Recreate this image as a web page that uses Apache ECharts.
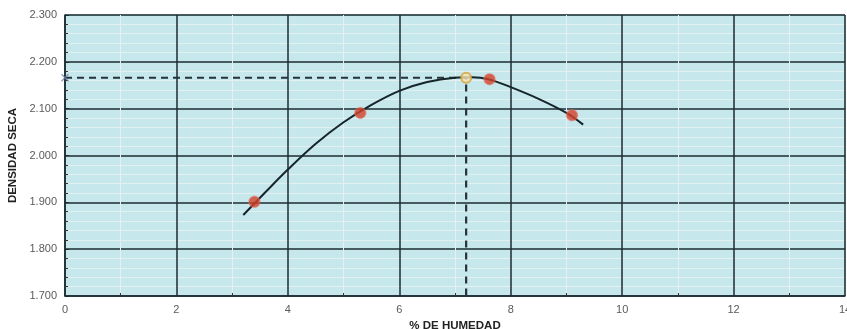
<!DOCTYPE html>
<html>
<head>
<meta charset="utf-8">
<script src="https://cdn.jsdelivr.net/npm/echarts@6/dist/echarts.min.js"></script>
<style>
html,body{margin:0;padding:0;background:#fff;}
#c{width:847px;height:329px;}
</style>
</head>
<body>
<div id="c"></div>
<script>
// Data
const puntosHumedad = [3.4, 5.3, 7.62, 9.1];
const puntosDensidad = [1.901, 2.091, 2.163, 2.086];
const optimoHumedad = 7.2;
const optimoDensidad = 2.166;
const curvaHumedad = [3.2, 3.6, 4.0, 4.5, 5.0, 5.5, 6.0, 6.5, 7.0, 7.3, 7.6, 8.0, 8.5, 9.0, 9.3];
const curvaDensidad = [1.873, 1.922, 1.970, 2.025, 2.071, 2.108, 2.138, 2.157, 2.166, 2.167, 2.163, 2.146, 2.121, 2.091, 2.066];
const ejeX = {min: 0, max: 14, interval: 2, name: '% DE HUMEDAD'};
const ejeY = {min: 1.7, max: 2.3, interval: 0.1, name: 'DENSIDAD SECA'};

const chart = echarts.init(document.getElementById('c'), null, {renderer: 'canvas'});
const dark = '#1d2b30';
const labelFont = {color: '#5a5a5a', fontSize: 11, fontFamily: 'Liberation Sans, Arial, sans-serif'};
const nameFont = {color: '#222', fontSize: 11.5, fontWeight: 'bold', fontFamily: 'Liberation Sans, Arial, sans-serif'};

chart.setOption({
  animation: false,
  backgroundColor: '#ffffff',
  grid: {left: 65, right: 2, top: 15, bottom: 33, containLabel: false, outerBoundsMode: 'none',
         show: true, backgroundColor: '#c6e7eb', borderColor: '#7fc4cf', borderWidth: 1},
  xAxis: {
    type: 'value', min: ejeX.min, max: ejeX.max, interval: ejeX.interval,
    name: ejeX.name, nameLocation: 'middle', nameGap: 22,
    nameTextStyle: nameFont,
    axisLine: {show: true, lineStyle: {color: dark, width: 1.5}},
    axisTick: {show: false, inside: true},
    minorTick: {show: true, splitNumber: 2, length: 3, lineStyle: {color: '#333', width: 1}},
    axisLabel: Object.assign({margin: 8}, labelFont),
    splitLine: {show: true, lineStyle: {color: dark, width: 1.5}},
    minorSplitLine: {show: true, lineStyle: {color: '#e4f1f2', width: 1}}
  },
  yAxis: {
    type: 'value', min: ejeY.min, max: ejeY.max, interval: ejeY.interval,
    name: ejeY.name, nameLocation: 'middle', nameGap: 46, nameRotate: 90,
    nameTextStyle: nameFont,
    axisLine: {show: true, lineStyle: {color: dark, width: 1.5}},
    axisTick: {show: true, inside: true, length: 4, lineStyle: {color: dark}},
    minorTick: {show: true, splitNumber: 5, length: 3, lineStyle: {color: '#333'}},
    axisLabel: Object.assign({margin: 8, formatter: v => v.toFixed(3)}, labelFont),
    splitLine: {show: true, lineStyle: {color: dark, width: 1.5}},
    minorSplitLine: {show: true, lineStyle: {color: '#e2f0f1', width: 1}}
  },
  series: [
    {
      type: 'line', name: 'guia',
      data: [[ejeX.min, optimoDensidad], [optimoHumedad, optimoDensidad], [optimoHumedad, ejeY.min]],
      symbol: 'none', lineStyle: {color: '#24343a', width: 2.2, type: [7, 5]}, z: 3
    },
    {
      type: 'scatter', name: 'marca', clip: false,
      data: [[ejeX.min, optimoDensidad]],
      symbol: 'path://M0,0L10,10M10,0L0,10', symbolSize: 7,
      itemStyle: {color: 'rgba(0,0,0,0)', borderColor: '#6a7fa8', borderWidth: 1.2}, z: 4
    },
    {
      type: 'line', name: 'curva',
      data: curvaHumedad.map((x, i) => [x, curvaDensidad[i]]),
      smooth: 0.35, symbol: 'none', lineStyle: {color: '#15252a', width: 2}, z: 4
    },
    {
      type: 'scatter', name: 'puntos',
      data: puntosHumedad.map((x, i) => [x, puntosDensidad[i]]),
      symbol: 'circle', symbolSize: 11,
      itemStyle: {color: '#d2412b', borderColor: 'rgba(230,110,90,0.6)', borderWidth: 1.5}, z: 5
    },
    {
      type: 'scatter', name: 'optimo',
      data: [[optimoHumedad, optimoDensidad]],
      symbol: 'circle', symbolSize: 10,
      itemStyle: {color: '#f4e3b0', borderColor: '#d9a13a', borderWidth: 2}, z: 6
    }
  ]
});
</script>
</body>
</html>
